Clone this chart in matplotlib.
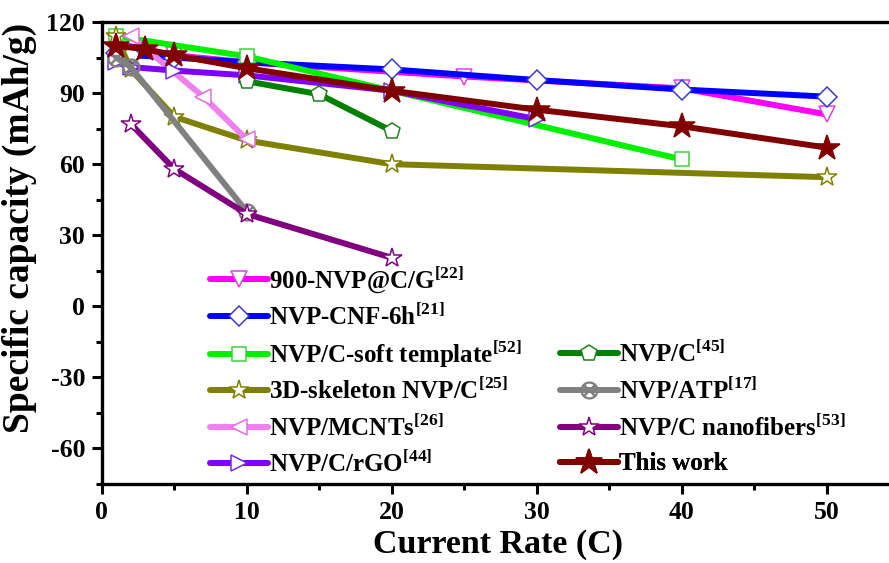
import matplotlib.pyplot as plt
from matplotlib.ticker import MultipleLocator

plt.rcParams['font.family'] = 'Liberation Serif'
plt.rcParams['font.weight'] = 'bold'
plt.rcParams['mathtext.fontset'] = 'custom'
plt.rcParams['mathtext.rm'] = 'Liberation Serif:bold'
plt.rcParams['mathtext.bf'] = 'Liberation Serif:bold'
plt.rcParams['axes.unicode_minus'] = False

# rate (C) / capacity (mAh/g) for each material
nvp_cg_x = [1, 5, 10, 25, 40, 50]
nvp_cg_y = [111, 106, 103, 97, 92, 81]

cnf_x = [1, 2, 5, 10, 20, 30, 40, 50]
cnf_y = [107, 106, 105, 103, 100, 95.5, 91.5, 88.5]

soft_x = [1, 10, 40]
soft_y = [114, 105.5, 62]

skel_x = [1, 2, 5, 10, 20, 50]
skel_y = [114, 100, 80, 70, 60, 54.5]

mcnt_x = [2, 7, 10]
mcnt_y = [114, 88.5, 70.5]

rgo_x = [1, 2, 5, 10, 20, 30]
rgo_y = [103, 101, 99.5, 97.5, 91, 79]

nvpc_x = [10, 15, 20]
nvpc_y = [95, 89.5, 74]

atp_x = [1, 2, 10]
atp_y = [105, 101, 40]

fiber_x = [2, 5, 10, 20]
fiber_y = [77, 58, 39, 20.5]

work_x = [1, 3, 5, 10, 20, 30, 40, 50]
work_y = [110, 108.5, 106, 100.5, 91, 83, 76, 67]

labels = [
    r'900-NVP@C/G$^{[22]}$',
    r'NVP-CNF-6h$^{[21]}$',
    r'NVP/C-soft template$^{[52]}$',
    r'3D-skeleton NVP/C$^{[25]}$',
    r'NVP/MCNTs$^{[26]}$',
    r'NVP/C/rGO$^{[44]}$',
    r'NVP/C$^{[45]}$',
    r'NVP/ATP$^{[17]}$',
    r'NVP/C nanofibers$^{[53]}$',
    'This work',
]

W, H = 889, 563
fig = plt.figure(figsize=(W / 100, H / 100), dpi=100)
ax = fig.add_axes([0.1144, 0.1403, 0.897, 0.8206])

lw = 4.3
ms = 11
mew = 1.1

def series(x, y, color, marker, edge, label, size=ms, face='white'):
    line, = ax.plot(x, y, color=color, lw=lw, marker=marker, ms=size,
                    mfc=face, mec=edge, mew=mew, label=label,
                    solid_capstyle='round')
    return line

h = []
h.append(series(nvp_cg_x, nvp_cg_y, '#FF00FF', 'v', '#E040E0', labels[0]))
h.append(series(cnf_x, cnf_y, '#0000FF', 'D', '#3A3ACC', labels[1], size=10))
h.append(series(soft_x, soft_y, '#00F000', 's', '#40D040', labels[2], size=10))
h.append(series(skel_x, skel_y, '#808000', '*', '#808000', labels[3], size=15))
h.append(series(mcnt_x, mcnt_y, '#F080F0', '<', '#E070E0', labels[4]))
h.append(series(rgo_x, rgo_y, '#8000FF', '>', '#7030E0', labels[5]))
h.append(series(nvpc_x, nvpc_y, '#008000', 'p', '#208020', labels[6], size=12))
h.append(series(atp_x, atp_y, '#808080', r'$\otimes$', '#808080', labels[7], size=12))
h.append(series(fiber_x, fiber_y, '#800080', '*', '#800080', labels[8], size=15))
h.append(series(work_x, work_y, '#800000', '*', '#800000', labels[9], size=19,
                face='#800000'))

ax.set_xlim(0, 55)
ax.set_ylim(-75, 120)
ax.xaxis.set_major_locator(MultipleLocator(10))
ax.xaxis.set_minor_locator(MultipleLocator(5))
ax.yaxis.set_major_locator(MultipleLocator(30))
ax.yaxis.set_minor_locator(MultipleLocator(15))
ax.tick_params(which='both', direction='out', width=2.2, top=False, right=False,
               labelsize=18.5)
ax.tick_params(which='major', length=7, pad=5)
ax.tick_params(which='minor', length=4.5)
for s in ['left', 'bottom', 'top']:
    ax.spines[s].set_linewidth(2.4)
ax.spines['right'].set_visible(False)

ax.set_xlabel('Current Rate (C)', fontsize=24.5, fontweight='bold')
ax.xaxis.set_label_coords(0.497, -0.097)
fig.text(37 / W, 1 - 228 / H, 'Specific capacity (mAh/g)', fontsize=27,
         fontweight='bold', rotation=90, ha='right', va='center')

# one legend per row so both columns share the same row grid
rows = [283, 320, 357, 394, 431, 467]
slots = [(210, rows[i]) for i in range(6)] + [(560, rows[i]) for i in range(2, 6)]
for handle, (px, py) in zip(h, slots):
    leg = ax.legend(handles=[handle], frameon=False, fontsize=18,
                    handlelength=2.3, handletextpad=0.05, borderpad=0,
                    borderaxespad=0, loc='center left',
                    bbox_to_anchor=(px / W, 1 - (py - 3) / H),
                    bbox_transform=fig.transFigure)
    ax.add_artist(leg)

fig.savefig('out.png', dpi=100)
